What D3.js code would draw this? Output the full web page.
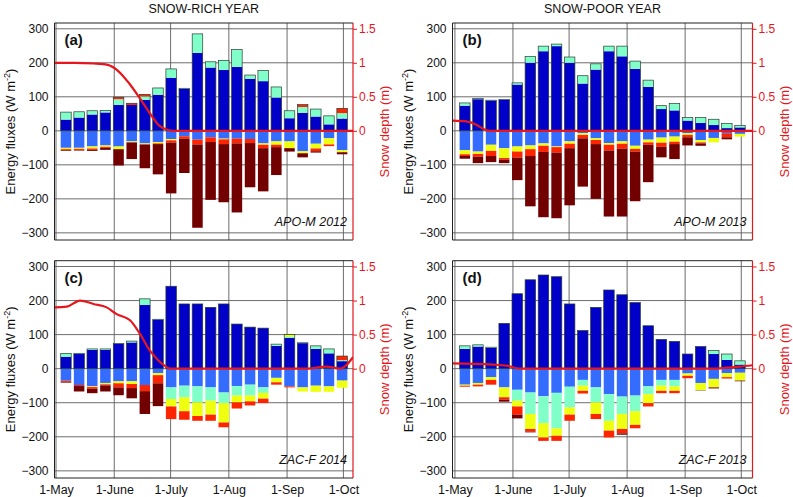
<!DOCTYPE html>
<html><head><meta charset="utf-8">
<script src="https://cdn.jsdelivr.net/npm/d3@7"></script>
<style>
body{margin:0;background:#fff}
text{font-family:"Liberation Sans",Arial,sans-serif}
</style>
</head><body>
<svg id="chart" width="793" height="497"></svg>
<script>
// ---------- DATA ----------
// weekly bar centres, days since 1 May
const weekMid = [5.3,12.3,19.3,26.3,33.3,40.3,47.3,54.3,61.3,68.3,75.3,82.3,89.3,96.3,103.3,110.3,117.3,124.3,131.3,138.3,145.3,152.3];
const monthDays = [0,31,61,92,123,153];
const monthLabels = ["1-May","1-June","1-July","1-Aug","1-Sep","1-Oct"];
const fluxTicks = [-300,-200,-100,0,100,200,300];
const depthTicks = [0,0.5,1,1.5];
const depthTickLabels = ["0","0.5","1","1.5"];
const columnTitles = ["SNOW-RICH YEAR","SNOW-POOR YEAR"];
const seriesKeys = ["sw","lw","h","le","g","m"];

// Panel (a) APO-M 2012
const A_sw = [33,39,48,54,76,76,91,106,156,123,229,186,179,188,153,146,98,37,53,42,19,36];
const A_lw = [-50,-50,-46,-43,-46,-31,-37,-33,-24,-16,-26,-19,-23,-23,-24,-37,-31,-31,-60,-38,-22,-57];
const A_h  = [22,17,11,6,17,0,10,20,26,2,56,17,28,51,11,31,31,22,17,22,25,16];
const A_le = [-4,-3,-6,-4,-8,-3,-3,-4,-4,0,0,0,-2,0,0,-4,-10,-20,-6,-14,-18,-6];
const A_g  = [-3,-3,-4,-3,6,5,6,-2,-7,-7,-14,-14,-14,-14,-12,-10,-7,0,7,-8,-5,14];
const A_m  = [-2,-2,-3,-6,-48,-49,-70,-89,-149,-101,-245,-170,-171,-203,-130,-127,-82,-10,-12,-4,0,-6];
const A_snowDay = [-0.8,10,20,27.4,32.7,38.9,45.1,50.4,54.8,59.3,62,158.1];
const A_snow    = [1.0,1.0,0.99,0.97,0.89,0.70,0.46,0.24,0.08,0.015,0,0];

// Panel (b) APO-M 2013
const B_sw = [74,93,89,91,136,200,234,249,200,139,180,234,219,182,129,64,60,30,23,17,8,10];
const B_lw = [-57,-61,-41,-51,-46,-43,-37,-46,-31,-7,-22,-36,-31,-44,-26,-20,-17,-7,-27,-21,-7,-9];
const B_h  = [8,2,1,1,5,19,15,6,17,23,17,15,30,23,20,10,20,9,16,17,14,6];
const B_le = [-12,-7,-18,-29,-15,-11,-7,-2,-7,-5,-5,-5,-7,-9,-8,-15,-15,-5,-7,-13,0,-8];
const B_g  = [-5,-8,-15,-5,-18,-20,-18,-16,-13,-10,-12,-17,-15,-8,-7,-12,-7,-7,-3,0,-12,0];
const B_m  = [-8,-19,-18,-10,-66,-148,-192,-193,-168,-142,-161,-194,-199,-146,-110,-31,-44,-24,-7,0,-6,0];
const B_snowDay = [-1.3,6,11.4,15,18.5,159];
const B_snow    = [0.15,0.14,0.09,0.03,0,0];

// Panel (c) ZAC-F 2014
const C_sw = [35,43,55,55,73,77,187,144,242,190,190,180,190,131,122,119,67,90,75,58,45,22];
const C_lw = [-35,-48,-52,-42,-37,-37,-48,-13,-55,-50,-52,-55,-70,-51,-47,-55,-27,-52,-55,-50,-52,-35];
const C_h  = [10,2,3,3,1,4,18,1,-34,-34,-47,-39,-31,-28,-32,-16,5,4,1,9,13,3];
const C_le = [0,0,-2,-4,-6,-8,0,-6,-22,-41,-40,-41,-57,-20,-17,-17,-13,6,-12,-18,-16,-21];
const C_g  = [-3,-3,-5,-3,-12,-12,-18,-24,-37,-25,-14,-18,-14,-18,-12,-13,-7,-3,0,0,0,12];
const C_m  = [-3,-16,-13,-18,-23,-30,-67,-67,0,0,0,0,0,0,0,0,0,0,0,0,0,0];
const C_snowDay = [-0.8,5.7,12.8,19.9,27,32.3,39.4,44.7,50.1,54.5,58,60.7,133.5,144.1,151.2,158.1];
const C_snow    = [0.90,0.91,1.0,0.95,0.90,0.80,0.71,0.51,0.26,0.12,0.04,0,0,0.03,0,0.17];

// Panel (d) ZAC-F 2013
const D_sw = [58,65,61,133,220,261,275,270,190,112,180,231,217,194,126,86,80,43,65,43,26,12];
const D_lw = [-47,-42,-25,-55,-62,-70,-81,-71,-53,-33,-55,-75,-82,-79,-52,-33,-33,-14,-42,-30,-13,-12];
const D_h  = [9,5,2,0,-32,-63,-79,-104,-61,-17,-44,-78,-51,-46,-23,-17,-19,0,0,10,17,11];
const D_le = [-3,-5,-8,-29,-17,-44,-42,-22,-21,-15,-34,-29,-44,-40,-26,-15,-13,-7,-21,-25,-12,-23];
const D_g  = [-3,-5,-14,-7,-24,-8,-10,-15,-18,-8,-15,-20,-13,-10,-10,-7,-7,-7,0,0,-4,0];
const D_m  = [0,0,0,-6,-11,-2,0,0,0,0,0,0,-4,0,0,0,0,0,-1,-3,0,-2];
const D_snowDay = [-1.3,20.3,27.4,34.6,137.9,145,152.2,159];
const D_snow    = [0.078,0.06,0.045,0,0,0.015,0.03,0.05];

// ---------- STYLE / LAYOUT ----------
const colors = {sw:"#0000c8", lw:"#346cff", h:"#80ffc8", le:"#eeff10", g:"#ff2400", m:"#720000"};
const red = "#e5161c";
const panels = [
  {label:"(a)", site:"APO-M 2012", left:54.5, right:353, top:23, bottom:240, xDom:[-0.8,158.1], xLab:false, col:0,
   vals:{sw:A_sw,lw:A_lw,h:A_h,le:A_le,g:A_g,m:A_m}, sd:A_snowDay, s:A_snow},
  {label:"(b)", site:"APO-M 2013", left:452.5, right:752.5, top:23, bottom:240, xDom:[-1.3,159], xLab:false, col:1,
   vals:{sw:B_sw,lw:B_lw,h:B_h,le:B_le,g:B_g,m:B_m}, sd:B_snowDay, s:B_snow},
  {label:"(c)", site:"ZAC-F 2014", left:54.5, right:353, top:260.7, bottom:478, xDom:[-0.8,158.1], xLab:true, col:0,
   vals:{sw:C_sw,lw:C_lw,h:C_h,le:C_le,g:C_g,m:C_m}, sd:C_snowDay, s:C_snow},
  {label:"(d)", site:"ZAC-F 2013", left:452.5, right:752.5, top:260.7, bottom:478, xDom:[-1.3,159], xLab:true, col:1,
   vals:{sw:D_sw,lw:D_lw,h:D_h,le:D_le,g:D_g,m:D_m}, sd:D_snowDay, s:D_snow}
];
const fluxDom = [-321,317];

const svg = d3.select("#chart");
const defs = svg.append("defs");

panels.forEach((p,pi) => {
  const x = d3.scaleLinear().domain(p.xDom).range([p.left,p.right]);
  const y = d3.scaleLinear().domain(fluxDom).range([p.bottom,p.top]);
  const y2 = d3.scaleLinear().domain([fluxDom[0]/200, fluxDom[1]/200]).range([p.bottom,p.top]);
  const g = svg.append("g");

  defs.append("clipPath").attr("id","clip"+pi).append("rect")
    .attr("x",p.left).attr("y",p.top).attr("width",p.right-p.left).attr("height",p.bottom-p.top);

  // grid
  g.append("g").selectAll("line").data(fluxTicks).join("line")
    .attr("x1",p.left).attr("x2",p.right).attr("y1",d=>y(d)).attr("y2",d=>y(d))
    .attr("stroke","#5c5c5c").attr("stroke-width",0.9);
  g.append("g").selectAll("line").data(monthDays).join("line")
    .attr("x1",d=>x(d)).attr("x2",d=>x(d)).attr("y1",p.top).attr("y2",p.bottom)
    .attr("stroke","#5c5c5c").attr("stroke-width",0.9);

  // bars
  const rows = weekMid.map((d,i) => {
    const r = {day:d};
    seriesKeys.forEach(k => r[k] = p.vals[k][i]);
    return r;
  });
  const stacked = d3.stack().keys(seriesKeys).offset(d3.stackOffsetDiverging)(rows);
  const half = (x(2.8) - x(0));
  const bars = g.append("g").attr("clip-path","url(#clip"+pi+")");
  stacked.forEach(s => {
    bars.append("g").attr("fill",colors[s.key]).selectAll("rect").data(s).join("rect")
      .attr("x",d=>x(d.data.day)-half).attr("width",2*half)
      .attr("y",d=>y(Math.max(d[0],d[1])))
      .attr("height",d=>Math.abs(y(d[0])-y(d[1])));
  });
  // outline of positive part
  bars.append("g").selectAll("rect").data(rows).join("rect")
    .attr("x",d=>x(d.day)-half).attr("width",2*half)
    .attr("y",d=>y(d3.sum(seriesKeys,k=>Math.max(0,d[k]))))
    .attr("height",d=>y(0)-y(d3.sum(seriesKeys,k=>Math.max(0,d[k]))))
    .attr("fill","none").attr("stroke","#2b3b33").attr("stroke-width",0.7);

  // snow depth line
  const line = d3.line().x((d,i)=>x(p.sd[i])).y(d=>y2(d)).curve(d3.curveMonotoneX);
  g.append("path").datum(p.s).attr("clip-path","url(#clip"+pi+")")
    .attr("d",line).attr("fill","none").attr("stroke",red).attr("stroke-width",2.2);

  // box (left, top, bottom)
  g.append("path")
    .attr("d",`M${p.right},${p.top}H${p.left}V${p.bottom}H${p.right}`)
    .attr("fill","none").attr("stroke","#222").attr("stroke-width",1);

  // left axis labels
  const ax = d3.axisLeft(y).tickValues(fluxTicks).tickSize(0).tickPadding(6).tickFormat(d3.format("d"));
  const ag = g.append("g").attr("transform",`translate(${p.left},0)`).call(ax);
  ag.select(".domain").remove();
  ag.selectAll("text").attr("font-size",12).attr("fill","#111").style("font-family","'Liberation Sans',Arial,sans-serif");

  // right red axis
  const rax = d3.axisRight(y2).tickValues(depthTicks).tickSize(4).tickPadding(2)
    .tickFormat((d,i)=>depthTickLabels[i]);
  const rg = g.append("g").attr("transform",`translate(${p.right},0)`).call(rax);
  rg.select(".domain").attr("d",`M0,${p.top}V${p.bottom}`).attr("stroke",red).attr("stroke-width",1.2);
  rg.selectAll(".tick line").attr("stroke",red);
  rg.selectAll("text").attr("font-size",12).attr("fill",red).style("font-family","'Liberation Sans',Arial,sans-serif");

  // bottom labels
  if (p.xLab) {
    const bx = d3.axisBottom(x).tickValues(monthDays).tickSize(0).tickPadding(7)
      .tickFormat((d,i)=>monthLabels[i]);
    const bg = g.append("g").attr("transform",`translate(0,${p.bottom})`).call(bx);
    bg.select(".domain").remove();
    bg.selectAll("text").attr("font-size",12.5).attr("fill","#111").style("font-family","'Liberation Sans',Arial,sans-serif");
  }

  // axis titles
  const cy = (p.top+p.bottom)/2;
  const yt = g.append("text").attr("transform",`translate(${p.left-40},${cy}) rotate(-90)`)
    .attr("text-anchor","middle").attr("font-size",13).attr("fill","#111");
  yt.append("tspan").text("Energy fluxes (W m");
  yt.append("tspan").attr("font-size",9).attr("dy",-5).text("-2");
  yt.append("tspan").attr("dy",5).text(")");
  g.append("text").attr("transform",`translate(${p.right+36},${cy}) rotate(-90)`)
    .attr("text-anchor","middle").attr("font-size",13).attr("fill",red).text("Snow depth (m)");

  // panel label and site
  g.append("text").attr("x",p.left+10).attr("y",p.top+22).attr("font-size",15)
    .attr("font-weight","bold").attr("fill","#111").text(p.label);
  g.append("text").attr("x",p.right-6).attr("y",p.bottom-14).attr("text-anchor","end")
    .attr("font-size",12.5).attr("font-style","italic").attr("fill","#111").text(p.site);

  if (p.top < 100) {
    svg.append("text").attr("x",(p.left+p.right)/2).attr("y",13).attr("text-anchor","middle")
      .attr("font-size",12.5).attr("fill","#111").text(columnTitles[p.col]);
  }
});
</script>
</body></html>
